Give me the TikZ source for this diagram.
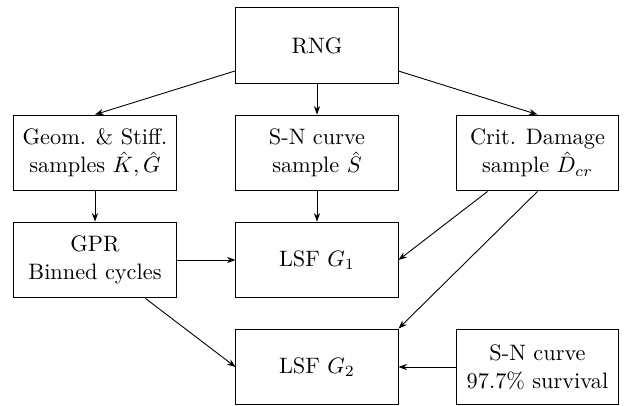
\documentclass[tikz,border=0pt]{standalone}
\usetikzlibrary{arrows.meta}
\begin{document}
\begin{tikzpicture}[x=0.448pt,y=-0.448pt,
  blk/.style={draw,line width=0.45pt,minimum width=72.6pt,minimum height=34pt,align=center,inner sep=2pt,font=\fontsize{10}{12.5}\selectfont},
  arr/.style={-{Stealth[length=3.8pt,width=2.8pt]},line width=0.4pt}]
\useasboundingbox (0,0) rectangle (625,405);
\node[blk] (rng) at (317,45.5) {RNG};
\node[blk] (geom) at (95,153) {Geom. \& Stiff.\\samples $\hat{K},\hat{G}$};
\node[blk] (sn) at (317,153) {S-N curve\\sample $\hat{S}$};
\node[blk] (crit) at (537.5,153) {Crit. Damage\\sample $\hat{D}_{cr}$};
\node[blk] (gpr) at (95,260) {GPR\\Binned cycles};
\node[blk] (g1) at (317,260) {LSF $G_1$};
\node[blk] (g2) at (317,367) {LSF $G_2$};
\node[blk] (sn97) at (537.5,367) {S-N curve\\97.7\% survival};
\draw[arr] (rng) -- (geom.north);
\draw[arr] (rng) -- (sn);
\draw[arr] (rng) -- (crit.north);
\draw[arr] (geom) -- (gpr);
\draw[arr] (sn) -- (g1);
\draw[arr] (gpr) -- (g1);
\draw[arr] (crit) -- (g1.east);
\draw[arr] (crit.south) -- (g2.north east);
\draw[arr] (gpr) -- (g2.west);
\draw[arr] (sn97) -- (g2);
\end{tikzpicture}
\end{document}
